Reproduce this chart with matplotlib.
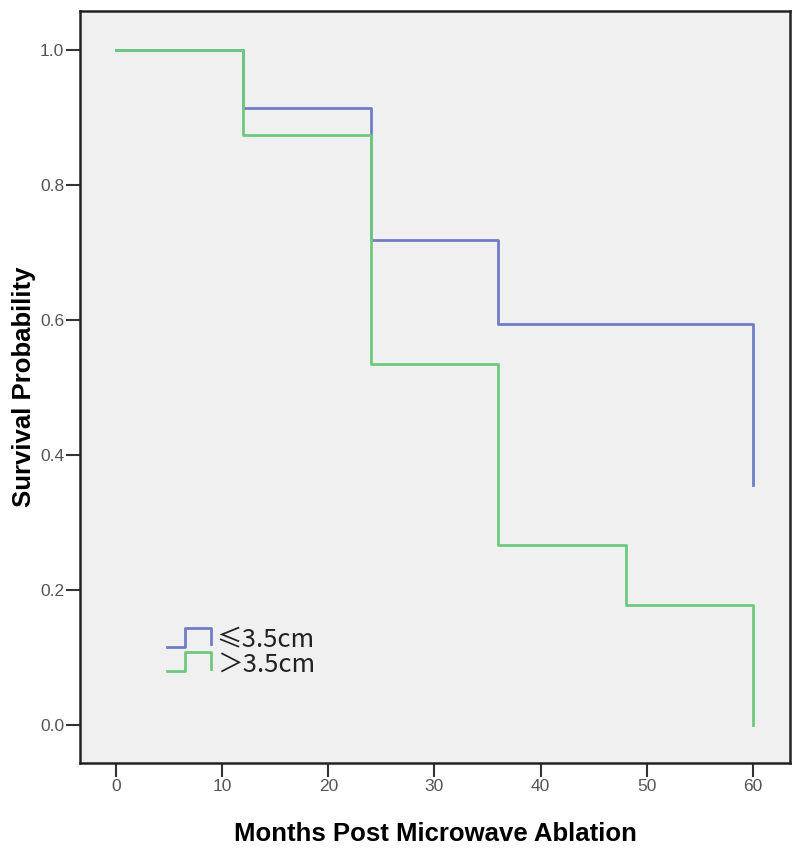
import matplotlib
matplotlib.use('Agg')
import matplotlib.pyplot as plt
from matplotlib.legend_handler import HandlerBase
from matplotlib.lines import Line2D

# 생존 곡선 데이터 (months, survival)
months_small = [0, 12, 24, 36, 60]
surv_small = [1.0, 0.914, 0.719, 0.594, 0.356]
months_large = [0, 12, 24, 36, 48, 60]
surv_large = [1.0, 0.875, 0.535, 0.267, 0.178, 0.0]
labels = ['≤3.5cm', '＞3.5cm']
colors = ['#6f7dc6', '#6cc97e']
xticks = [0, 10, 20, 30, 40, 50, 60]
yticks = [0.0, 0.2, 0.4, 0.6, 0.8, 1.0]

plt.rcParams['font.family'] = ['Liberation Sans', 'DejaVu Sans']


class StepHandler(HandlerBase):
    # 범례에 계단 모양 그리기
    def create_artists(self, legend, orig_handle, xdescent, ydescent,
                       width, height, fontsize, trans):
        x0 = -xdescent
        y0, y1 = -ydescent + 0.0 * height, -ydescent + 1.05 * height
        xs = [x0, x0 + 0.4 * width, x0 + 0.4 * width, x0 + 0.95 * width,
              x0 + 0.95 * width]
        ys = [y0, y0, y1, y1, y0 + 0.15 * height]
        ln = Line2D(xs, ys, color=orig_handle.get_color(), lw=2)
        ln.set_transform(trans)
        return [ln]


fig = plt.figure(figsize=(8, 8.51), dpi=100)
ax = fig.add_axes([0.1, 0.1034, 0.8875, 0.8836])
ax.set_facecolor('#f0f0f0')

l1, = ax.step(months_small, surv_small, where='post', color=colors[0], lw=2)
l2, = ax.step(months_large, surv_large, where='post', color=colors[1], lw=2)

ax.set_xlim(-3.4, 63.5)
ax.set_ylim(-0.056, 1.058)
ax.set_xticks(xticks)
ax.set_yticks(yticks)
ax.set_yticklabels([f'{v:.1f}' for v in yticks])
ax.tick_params(direction='out', length=10, width=1.5, labelsize=12.5,
               labelcolor='#555555', color='#333333', pad=1.5)
for s in ax.spines.values():
    s.set_linewidth(1.8)
    s.set_color('#222222')

ax.set_xlabel('Months Post Microwave Ablation', fontsize=18.5, fontweight='bold', labelpad=20)
ax.set_ylabel('Survival Probability', fontsize=18.5, fontweight='bold', labelpad=3)

leg = ax.legend([l1, l2], labels, loc='lower left', bbox_to_anchor=(0.104, 0.097),
                frameon=False, handler_map={Line2D: StepHandler()},
                prop={'family': ['Noto Sans CJK SC', 'DejaVu Sans'], 'size': 18.5},
                handlelength=1.8, handletextpad=0.15, labelspacing=-0.05,
                borderpad=0)
for t in leg.get_texts():
    t.set_color('#222222')

fig.savefig('out.png', dpi=100)
